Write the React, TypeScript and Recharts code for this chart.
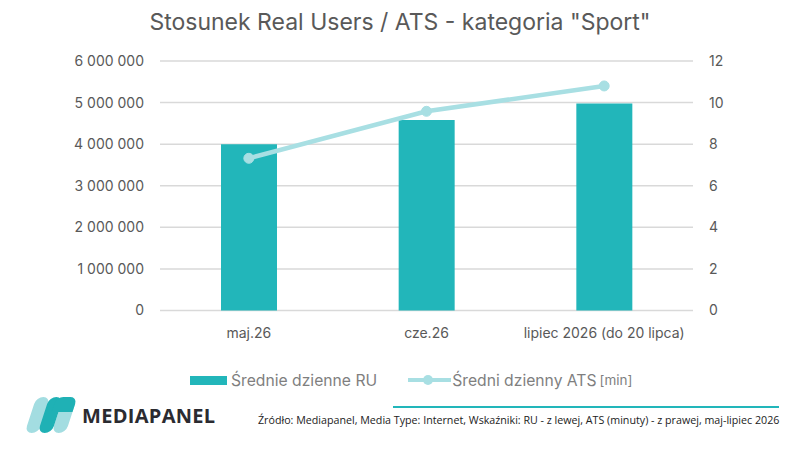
import React from "react";
import {
  ComposedChart,
  Bar,
  Line,
  XAxis,
  YAxis,
  CartesianGrid,
} from "recharts";

const categories = ["maj.26", "cze.26", "lipiec 2026 (do 20 lipca)"];
const realUsers = [4000000, 4580000, 4980000];
const ats = [7.32, 9.58, 10.8];
const leftTicks = [0, 1000000, 2000000, 3000000, 4000000, 5000000, 6000000];
const rightTicks = [0, 2, 4, 6, 8, 10, 12];

const title = 'Stosunek Real Users / ATS - kategoria "Sport"';
const barLegend = "Średnie dzienne RU";
const lineLegend = "Średni dzienny ATS";
const lineLegendUnit = "[min]";
const brand = "MEDIAPANEL";
const source =
  "Źródło: Mediapanel, Media Type: Internet, Wskaźniki: RU - z lewej, ATS (minuty) - z prawej, maj-lipiec 2026";

const data = categories.map((c, i) => ({ name: c, ru: realUsers[i], ats: ats[i] }));

const BAR = "#22b6ba";
const LINE = "#a8dfe3";
const GRID = "#d9d9d9";
const TXT = "#595959";
const FONT = "Inter, 'Open Sans', sans-serif";

const fmt = (v: number) => String(v).replace(/\B(?=(\d{3})+(?!\d))/g, " ");

export default function App() {
  return (
    <div
      style={{
        position: "absolute",
        left: 0,
        top: 0,
        width: 800,
        height: 450,
        background: "#fff",
        fontFamily: FONT,
        overflow: "hidden",
      }}
    >
      <div
        style={{
          position: "absolute",
          left: 0,
          top: 6,
          width: 800,
          textAlign: "center",
          fontSize: 23,
          color: TXT,
          lineHeight: "32px",
        }}
      >
        {title}
      </div>
      <ComposedChart
        width={800}
        height={450}
        data={data}
        margin={{ top: 61, right: 0, bottom: 109.5, left: 0 }}
        style={{ position: "absolute", left: 0, top: 0 }}
      >
        <CartesianGrid
          yAxisId="left"
          vertical={false}
          stroke={GRID}
          strokeWidth={1.5}
        />
        <XAxis
          dataKey="name"
          height={30}
          axisLine={false}
          tickLine={false}
          tickMargin={12}
          tick={{ fill: TXT, fontSize: 14, fontFamily: FONT }}
          interval={0}
        />
        <YAxis
          yAxisId="left"
          orientation="left"
          width={160}
          domain={[0, 6000000]}
          ticks={leftTicks}
          tickFormatter={fmt}
          axisLine={false}
          tickLine={false}
          tickMargin={10}
          tick={{ fill: TXT, fontSize: 14, fontFamily: FONT }}
        />
        <YAxis
          yAxisId="right"
          orientation="right"
          width={107}
          domain={[0, 12]}
          ticks={rightTicks}
          axisLine={false}
          tickLine={false}
          tickMargin={10}
          tick={{ fill: TXT, fontSize: 14, fontFamily: FONT, textAnchor: "start" }}
        />
        <Bar
          yAxisId="left"
          dataKey="ru"
          fill={BAR}
          barSize={56}
          isAnimationActive={false}
        />
        <Line
          yAxisId="right"
          dataKey="ats"
          stroke={LINE}
          strokeWidth={4.5}
          dot={{ r: 5, fill: LINE, stroke: LINE, strokeWidth: 1 }}
          activeDot={false}
          isAnimationActive={false}
        />
      </ComposedChart>

      {/* Legend */}
      <div
        style={{
          position: "absolute",
          left: 190,
          top: 369,
          height: 22,
          display: "flex",
          alignItems: "center",
          color: "#7f7f7f",
          fontSize: 15.7,
          whiteSpace: "nowrap",
        }}
      >
        <span style={{ display: "inline-block", width: 37, height: 9, background: BAR, marginRight: 4 }} />
        <span>{barLegend}</span>
        <svg width={43} height={14} style={{ marginLeft: 31, marginRight: 1 }}>
          <line x1={0} y1={7} x2={43} y2={7} stroke={LINE} strokeWidth={4} />
          <circle cx={20} cy={7} r={5} fill={LINE} />
        </svg>
        <span>{lineLegend}</span>
        <span style={{ fontSize: 13.5, marginLeft: 3 }}>{lineLegendUnit}</span>
      </div>

      {/* Footer line */}
      <div
        style={{
          position: "absolute",
          left: 393,
          top: 406,
          width: 386,
          height: 2,
          background: BAR,
        }}
      />

      {/* Logo */}
      <svg
        width={60}
        height={50}
        style={{ position: "absolute", left: 22, top: 392 }}
      >
        <g transform="skewX(-18)">
          <rect x={16} y={5} width={14} height={36} rx={7} fill="#a3dde1" />
          <rect x={43} y={5} width={14} height={36} rx={7} fill="#a3dde1" />
          <rect x={29} y={5} width={14} height={36} rx={7} fill="#1fb1b5" />
          <path d="M36 12 a7 7 0 0 1 7 -7 h7 a7 7 0 0 1 7 7 v8 h-21 z" fill="#1fb1b5" />
        </g>
      </svg>
      <div
        style={{
          position: "absolute",
          left: 82,
          top: 403,
          fontSize: 20,
          fontWeight: 700,
          color: "#2b2b31",
          letterSpacing: 0.3,
          fontFamily: "'Open Sans', sans-serif",
          lineHeight: "26px",
        }}
      >
        {brand}
      </div>
      <div
        style={{
          position: "absolute",
          left: 258,
          top: 412,
          fontSize: 10.7,
          color: "#222",
          fontFamily: "'Open Sans', sans-serif",
          whiteSpace: "nowrap",
          lineHeight: "16px",
        }}
      >
        {source}
      </div>
    </div>
  );
}
